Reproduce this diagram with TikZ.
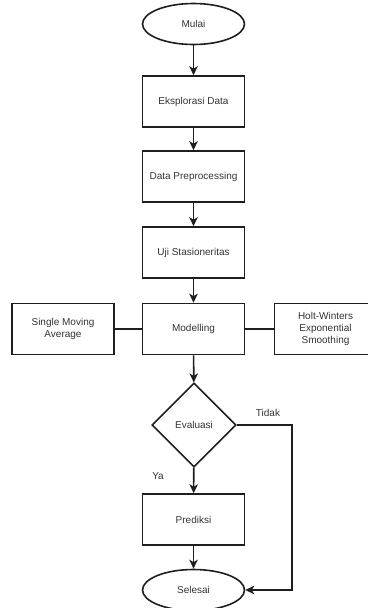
\documentclass[tikz,border=0pt]{standalone}
\usepackage{fontspec}
\setmainfont{Liberation Sans}
\usetikzlibrary{shapes.geometric,arrows.meta}
\definecolor{ln}{HTML}{1E1E1E}
\definecolor{tx}{HTML}{333333}
\begin{document}
\begin{tikzpicture}[x=1pt,y=-1pt,
  every node/.style={font=\fontsize{10}{12}\selectfont, text=tx},
  box/.style={draw=ln, line width=1.6pt, rectangle, minimum width=102pt, minimum height=51pt, align=center, inner sep=2pt},
  term/.style={draw=ln, line width=1.6pt, ellipse, minimum width=102pt, minimum height=41pt, inner sep=0pt},
  dec/.style={draw=ln, line width=1.6pt, diamond, minimum width=84pt, minimum height=84pt, inner sep=0pt},
  conn/.style={draw=ln, line width=1.6pt},
  arr/.style={conn, -{Stealth[length=9pt,width=8.5pt,inset=2.5pt]}},
  lbl/.style={inner sep=0pt}]
\useasboundingbox (0,0) rectangle (367,608);
\node[term] (mulai) at (193.5,24) {Mulai};
\node[box] (eks) at (193.5,101.5) {Eksplorasi Data};
\node[box] (prep) at (193.5,176.5) {Data Preprocessing};
\node[box] (uji) at (193.5,252.5) {Uji Stasioneritas};
\node[box] (mod) at (193.5,329) {Modelling};
\node[box] (sma) at (63,329) {Single Moving\\Average};
\node[box] (hw) at (325.5,329) {Holt-Winters\\Exponential\\Smoothing};
\node[dec] (eval) at (194,425) {Evaluasi};
\node[box] (pred) at (193.5,519.5) {Prediksi};
\node[term] (sel) at (193.5,590) {Selesai};
\node[lbl] (ya) at (158,476) {Ya};
\node[lbl] (tidak) at (268,413) {Tidak};
\coordinate (c1) at (292,425);
\coordinate (c2) at (292,590);
\draw[arr] (mulai) -- (eks);
\draw[arr] (eks) -- (prep);
\draw[arr] (prep) -- (uji);
\draw[arr] (uji) -- (mod);
\draw[arr] (mod) -- (eval);
\draw[arr] (eval) -- (pred);
\draw[arr] (pred) -- (sel);
\draw[conn] (sma) -- (mod);
\draw[conn] (mod) -- (hw);
\draw[arr] (eval.east) -- (c1) -- (c2) -- (sel.east);
\end{tikzpicture}
\end{document}
